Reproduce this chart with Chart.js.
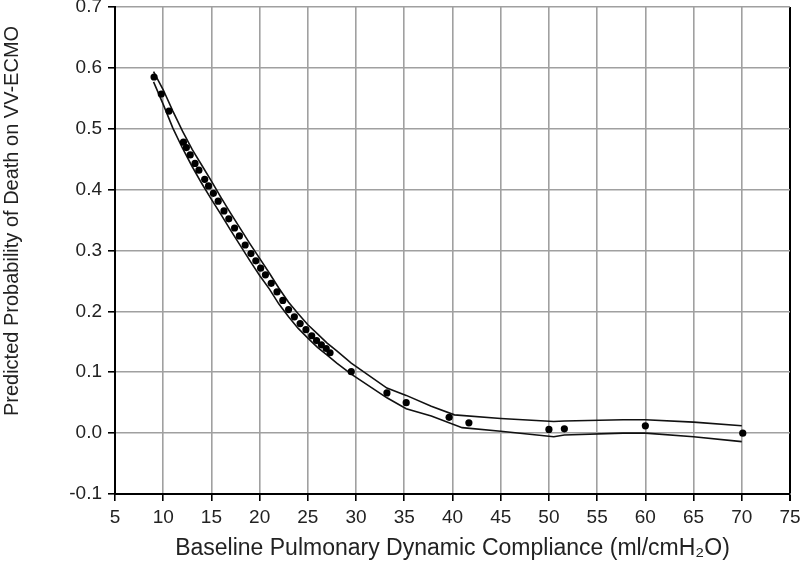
<!DOCTYPE html>
<html>
<head>
<meta charset="utf-8">
<script src="https://cdn.jsdelivr.net/npm/chart.js@4.4.1/dist/chart.umd.min.js"></script>
<style>
  html, body { margin: 0; padding: 0; background: #fff; }
  canvas { display: block; }
</style>
</head>
<body>
<canvas id="probChart" width="800" height="577"></canvas>
<script>
// predicted values (dots)
const pointX = [9.05, 9.8, 10.6, 12.1, 12.4, 12.8, 13.3, 13.7, 14.3, 14.7, 15.2, 15.7, 16.3, 16.8, 17.4, 17.9, 18.5, 19.1, 19.6, 20.1, 20.6, 21.2, 21.8, 22.4, 23.0, 23.6, 24.2, 24.8, 25.4, 25.9, 26.4, 26.9, 27.3, 29.5, 33.2, 35.2, 39.65, 41.7, 50.0, 51.6, 60.0, 70.1];
const pointY = [0.585, 0.557, 0.529, 0.478, 0.469, 0.457, 0.443, 0.432, 0.417, 0.406, 0.394, 0.381, 0.365, 0.352, 0.337, 0.324, 0.309, 0.295, 0.283, 0.271, 0.260, 0.246, 0.232, 0.218, 0.203, 0.191, 0.180, 0.170, 0.160, 0.152, 0.145, 0.139, 0.132, 0.101, 0.066, 0.050, 0.026, 0.017, 0.006, 0.007, 0.012, 0.000];

// confidence band
const upperX = [9, 10, 11, 12, 13, 14, 15, 16, 17, 18, 19, 20, 21, 22, 23, 24, 25, 26, 27, 28, 29.5, 33.2, 35.2, 37.8, 40.2, 45, 50.5, 51.6, 57.7, 60, 65, 70];
const upperY = [0.594, 0.564, 0.529, 0.496, 0.466, 0.440, 0.414, 0.387, 0.361, 0.336, 0.311, 0.287, 0.263, 0.238, 0.215, 0.196, 0.178, 0.163, 0.148, 0.135, 0.115, 0.074, 0.062, 0.044, 0.030, 0.024, 0.019, 0.020, 0.022, 0.022, 0.018, 0.012];
const lowerX = [9, 10, 11, 12, 13, 14, 15, 16, 17, 18, 19, 20, 21, 22, 23, 24, 25, 26, 27, 28, 29.5, 33.2, 35.2, 37.8, 41, 45, 50.5, 51.6, 57.7, 60, 65, 70];
const lowerY = [0.577, 0.540, 0.501, 0.468, 0.438, 0.410, 0.384, 0.359, 0.333, 0.308, 0.283, 0.259, 0.237, 0.212, 0.191, 0.172, 0.156, 0.141, 0.128, 0.115, 0.097, 0.058, 0.040, 0.028, 0.009, 0.003, -0.006, -0.003, 0.0, 0.0, -0.006, -0.014];

const xTitle = 'Baseline Pulmonary Dynamic Compliance (ml/cmH\u2082O)';
const yTitle = 'Predicted Probability of Death on VV-ECMO';

const toXY = (xs, ys) => xs.map((x, i) => ({ x: x, y: ys[i] }));

const fontFamily = '"Liberation Sans", Arial, sans-serif';

// y title sits a bit above the middle of the plot in the original
const yTitlePlugin = {
    id: 'yTitle',
    afterDraw(chart) {
        const ctx = chart.ctx;
        ctx.save();
        ctx.translate(12, 221);
        ctx.rotate(-Math.PI / 2);
        ctx.font = '20px ' + fontFamily;
        ctx.fillStyle = '#222';
        ctx.textAlign = 'center';
        ctx.textBaseline = 'middle';
        ctx.fillText(yTitle, 0, 0);
        ctx.restore();
    }
};

new Chart(document.getElementById('probChart'), {
    type: 'scatter',
    data: {
        datasets: [
            {
                data: toXY(pointX, pointY),
                backgroundColor: '#000',
                borderWidth: 0,
                pointRadius: 3.6,
                order: 0
            },
            {
                data: toXY(upperX, upperY),
                showLine: true,
                borderColor: '#111',
                borderWidth: 1.6,
                pointRadius: 0,
                order: 1
            },
            {
                data: toXY(lowerX, lowerY),
                showLine: true,
                borderColor: '#111',
                borderWidth: 1.6,
                pointRadius: 0,
                order: 1
            }
        ]
    },
    options: {
        responsive: false,
        animation: false,
        devicePixelRatio: 1,
        layout: { padding: { top: 7, right: 10, left: 0, bottom: 0 } },
        plugins: { legend: { display: false }, tooltip: { enabled: false } },
        scales: {
            x: {
                type: 'linear',
                min: 5,
                max: 75,
                afterFit: s => { s.height = 83; s.paddingLeft = 0; s.paddingRight = 0; },
                ticks: {
                    stepSize: 5,
                    color: '#222',
                    padding: 5,
                    font: { family: fontFamily, size: 19 },
                    maxRotation: 0
                },
                grid: {
                    color: c => c.tick && c.tick.value === 75 ? '#000' : '#a0a0a0',
                    lineWidth: c => c.tick && c.tick.value === 75 ? 2 : 1.6,
                    tickColor: '#000',
                    tickLength: 7
                },
                border: { color: '#000', width: 2 },
                title: {
                    display: true,
                    text: xTitle,
                    color: '#222',
                    font: { family: fontFamily, size: 23 },
                    padding: { top: 15, bottom: 15 }
                }
            },
            y: {
                min: -0.1,
                max: 0.7,
                afterFit: s => { s.width = 115; s.paddingTop = 0; s.paddingBottom = 0; },
                ticks: {
                    stepSize: 0.1,
                    color: '#222',
                    padding: 6,
                    font: { family: fontFamily, size: 19 },
                    callback: v => Math.abs(v) < 1e-9 ? '0.0' : v.toFixed(1)
                },
                grid: {
                    color: '#a0a0a0',
                    lineWidth: 1.6,
                    tickColor: '#000',
                    tickLength: 7
                },
                border: { color: '#000', width: 2 }
            }
        }
    },
    plugins: [yTitlePlugin]
});
</script>
</body>
</html>
